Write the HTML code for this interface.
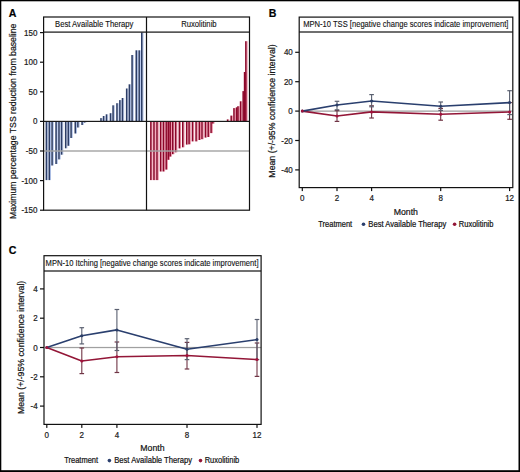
<!DOCTYPE html>
<html><head><meta charset="utf-8"><style>
html,body{margin:0;padding:0;background:#fff;}
body{width:520px;height:472px;overflow:hidden;}
svg{display:block;font-family:"Liberation Sans", sans-serif;}
text{stroke:#1a1a1a;stroke-width:0.22px;}
text.lt{stroke-width:0.12px;}
</style></head><body>
<svg width="520" height="472" viewBox="0 0 520 472">
<rect width="520" height="472" fill="#fff"/>
<rect x="47.10" y="121.40" width="1.0" height="58.70" fill="#b3c4ea"/><rect x="45.60" y="121.40" width="1.55" height="58.70" fill="#2c3d66"/><rect x="50.00" y="121.40" width="1.0" height="58.70" fill="#b3c4ea"/><rect x="48.50" y="121.40" width="1.55" height="58.70" fill="#2c3d66"/><rect x="52.80" y="121.40" width="1.0" height="44.10" fill="#b3c4ea"/><rect x="51.30" y="121.40" width="1.55" height="44.10" fill="#2c3d66"/><rect x="56.80" y="121.40" width="1.0" height="42.60" fill="#b3c4ea"/><rect x="55.30" y="121.40" width="1.55" height="42.60" fill="#2c3d66"/><rect x="59.70" y="121.40" width="1.0" height="38.00" fill="#b3c4ea"/><rect x="58.20" y="121.40" width="1.55" height="38.00" fill="#2c3d66"/><rect x="62.30" y="121.40" width="1.0" height="33.30" fill="#b3c4ea"/><rect x="60.80" y="121.40" width="1.55" height="33.30" fill="#2c3d66"/><rect x="66.40" y="121.40" width="1.0" height="26.90" fill="#b3c4ea"/><rect x="64.90" y="121.40" width="1.55" height="26.90" fill="#2c3d66"/><rect x="69.00" y="121.40" width="1.0" height="24.40" fill="#b3c4ea"/><rect x="67.50" y="121.40" width="1.55" height="24.40" fill="#2c3d66"/><rect x="71.80" y="121.40" width="1.0" height="16.60" fill="#b3c4ea"/><rect x="70.30" y="121.40" width="1.55" height="16.60" fill="#2c3d66"/><rect x="76.00" y="121.40" width="1.0" height="12.10" fill="#b3c4ea"/><rect x="74.50" y="121.40" width="1.55" height="12.10" fill="#2c3d66"/><rect x="78.60" y="121.40" width="1.0" height="6.10" fill="#b3c4ea"/><rect x="77.10" y="121.40" width="1.55" height="6.10" fill="#2c3d66"/><rect x="82.80" y="121.40" width="1.0" height="3.60" fill="#b3c4ea"/><rect x="81.30" y="121.40" width="1.55" height="3.60" fill="#2c3d66"/><rect x="85.30" y="121.40" width="1.0" height="1.20" fill="#b3c4ea"/><rect x="83.80" y="121.40" width="1.55" height="1.20" fill="#2c3d66"/><rect x="101.70" y="118.10" width="1.0" height="3.30" fill="#b3c4ea"/><rect x="100.20" y="118.10" width="1.55" height="3.30" fill="#2c3d66"/><rect x="104.30" y="116.00" width="1.0" height="5.40" fill="#b3c4ea"/><rect x="102.80" y="116.00" width="1.55" height="5.40" fill="#2c3d66"/><rect x="107.20" y="114.30" width="1.0" height="7.10" fill="#b3c4ea"/><rect x="105.70" y="114.30" width="1.55" height="7.10" fill="#2c3d66"/><rect x="111.20" y="113.20" width="1.0" height="8.20" fill="#b3c4ea"/><rect x="109.70" y="113.20" width="1.55" height="8.20" fill="#2c3d66"/><rect x="113.80" y="105.30" width="1.0" height="16.10" fill="#b3c4ea"/><rect x="112.30" y="105.30" width="1.55" height="16.10" fill="#2c3d66"/><rect x="117.70" y="103.20" width="1.0" height="18.20" fill="#b3c4ea"/><rect x="116.20" y="103.20" width="1.55" height="18.20" fill="#2c3d66"/><rect x="120.60" y="100.10" width="1.0" height="21.30" fill="#b3c4ea"/><rect x="119.10" y="100.10" width="1.55" height="21.30" fill="#2c3d66"/><rect x="123.20" y="98.00" width="1.0" height="23.40" fill="#b3c4ea"/><rect x="121.70" y="98.00" width="1.55" height="23.40" fill="#2c3d66"/><rect x="127.40" y="88.50" width="1.0" height="32.90" fill="#b3c4ea"/><rect x="125.90" y="88.50" width="1.55" height="32.90" fill="#2c3d66"/><rect x="130.10" y="84.30" width="1.0" height="37.10" fill="#b3c4ea"/><rect x="128.60" y="84.30" width="1.55" height="37.10" fill="#2c3d66"/><rect x="132.80" y="55.00" width="1.0" height="66.40" fill="#b3c4ea"/><rect x="131.30" y="55.00" width="1.55" height="66.40" fill="#2c3d66"/><rect x="137.00" y="50.30" width="1.0" height="71.10" fill="#b3c4ea"/><rect x="135.50" y="50.30" width="1.55" height="71.10" fill="#2c3d66"/><rect x="139.90" y="50.30" width="1.0" height="71.10" fill="#b3c4ea"/><rect x="138.40" y="50.30" width="1.55" height="71.10" fill="#2c3d66"/><rect x="142.50" y="32.50" width="1.0" height="88.90" fill="#b3c4ea"/><rect x="141.00" y="32.50" width="1.55" height="88.90" fill="#2c3d66"/>
<rect x="151.60" y="121.40" width="1.0" height="58.70" fill="#ef8fa6"/><rect x="150.10" y="121.40" width="1.55" height="58.70" fill="#8c0629"/><rect x="154.70" y="121.40" width="1.0" height="58.70" fill="#ef8fa6"/><rect x="153.20" y="121.40" width="1.55" height="58.70" fill="#8c0629"/><rect x="157.70" y="121.40" width="1.0" height="58.70" fill="#ef8fa6"/><rect x="156.20" y="121.40" width="1.55" height="58.70" fill="#8c0629"/><rect x="161.30" y="121.40" width="1.0" height="50.10" fill="#ef8fa6"/><rect x="159.80" y="121.40" width="1.55" height="50.10" fill="#8c0629"/><rect x="164.10" y="121.40" width="1.0" height="50.10" fill="#ef8fa6"/><rect x="162.60" y="121.40" width="1.55" height="50.10" fill="#8c0629"/><rect x="166.90" y="121.40" width="1.0" height="48.20" fill="#ef8fa6"/><rect x="165.40" y="121.40" width="1.55" height="48.20" fill="#8c0629"/><rect x="169.00" y="121.40" width="1.0" height="38.40" fill="#ef8fa6"/><rect x="167.50" y="121.40" width="1.55" height="38.40" fill="#8c0629"/><rect x="170.90" y="121.40" width="1.0" height="35.20" fill="#ef8fa6"/><rect x="169.40" y="121.40" width="1.55" height="35.20" fill="#8c0629"/><rect x="173.50" y="121.40" width="1.0" height="32.80" fill="#ef8fa6"/><rect x="172.00" y="121.40" width="1.55" height="32.80" fill="#8c0629"/><rect x="176.40" y="121.40" width="1.0" height="30.90" fill="#ef8fa6"/><rect x="174.90" y="121.40" width="1.55" height="30.90" fill="#8c0629"/><rect x="180.10" y="121.40" width="1.0" height="27.00" fill="#ef8fa6"/><rect x="178.60" y="121.40" width="1.55" height="27.00" fill="#8c0629"/><rect x="183.50" y="121.40" width="1.0" height="25.90" fill="#ef8fa6"/><rect x="182.00" y="121.40" width="1.55" height="25.90" fill="#8c0629"/><rect x="187.40" y="121.40" width="1.0" height="23.20" fill="#ef8fa6"/><rect x="185.90" y="121.40" width="1.55" height="23.20" fill="#8c0629"/><rect x="189.80" y="121.40" width="1.0" height="22.90" fill="#ef8fa6"/><rect x="188.30" y="121.40" width="1.55" height="22.90" fill="#8c0629"/><rect x="193.20" y="121.40" width="1.0" height="20.00" fill="#ef8fa6"/><rect x="191.70" y="121.40" width="1.55" height="20.00" fill="#8c0629"/><rect x="196.80" y="121.40" width="1.0" height="20.00" fill="#ef8fa6"/><rect x="195.30" y="121.40" width="1.55" height="20.00" fill="#8c0629"/><rect x="200.00" y="121.40" width="1.0" height="18.60" fill="#ef8fa6"/><rect x="198.50" y="121.40" width="1.55" height="18.60" fill="#8c0629"/><rect x="202.70" y="121.40" width="1.0" height="17.80" fill="#ef8fa6"/><rect x="201.20" y="121.40" width="1.55" height="17.80" fill="#8c0629"/><rect x="206.10" y="121.40" width="1.0" height="16.20" fill="#ef8fa6"/><rect x="204.60" y="121.40" width="1.55" height="16.20" fill="#8c0629"/><rect x="208.90" y="121.40" width="1.0" height="15.60" fill="#ef8fa6"/><rect x="207.40" y="121.40" width="1.55" height="15.60" fill="#8c0629"/><rect x="211.80" y="121.40" width="1.0" height="11.70" fill="#ef8fa6"/><rect x="210.30" y="121.40" width="1.55" height="11.70" fill="#8c0629"/><rect x="213.60" y="121.40" width="1.0" height="2.20" fill="#ef8fa6"/><rect x="212.10" y="121.40" width="1.55" height="2.20" fill="#8c0629"/><rect x="228.30" y="119.40" width="1.0" height="2.00" fill="#ef8fa6"/><rect x="226.80" y="119.40" width="1.55" height="2.00" fill="#8c0629"/><rect x="231.90" y="115.60" width="1.0" height="5.80" fill="#ef8fa6"/><rect x="230.40" y="115.60" width="1.55" height="5.80" fill="#8c0629"/><rect x="234.70" y="108.10" width="1.0" height="13.30" fill="#ef8fa6"/><rect x="233.20" y="108.10" width="1.55" height="13.30" fill="#8c0629"/><rect x="237.30" y="107.30" width="1.0" height="14.10" fill="#ef8fa6"/><rect x="235.80" y="107.30" width="1.55" height="14.10" fill="#8c0629"/><rect x="238.70" y="106.20" width="1.0" height="15.20" fill="#ef8fa6"/><rect x="237.20" y="106.20" width="1.55" height="15.20" fill="#8c0629"/><rect x="241.30" y="101.30" width="1.0" height="20.10" fill="#ef8fa6"/><rect x="239.80" y="101.30" width="1.55" height="20.10" fill="#8c0629"/><rect x="243.90" y="91.10" width="1.0" height="30.30" fill="#ef8fa6"/><rect x="242.40" y="91.10" width="1.55" height="30.30" fill="#8c0629"/><rect x="245.30" y="72.00" width="1.0" height="49.40" fill="#ef8fa6"/><rect x="243.80" y="72.00" width="1.55" height="49.40" fill="#8c0629"/><rect x="246.60" y="41.20" width="1.0" height="80.20" fill="#ef8fa6"/><rect x="245.10" y="41.20" width="1.55" height="80.20" fill="#8c0629"/>
<rect x="43.5" y="150.30" width="206" height="1.4" fill="#a3a3a3"/>
<rect x="43.5" y="120.80" width="206" height="1.2" fill="#1a1a1a"/>
<rect x="43.6" y="17.0" width="205.9" height="193.2" fill="none" stroke="#111" stroke-width="1.2"/>
<rect x="43.6" y="31.5" width="205.9" height="1.2" fill="#111"/>
<rect x="145.9" y="17.0" width="1.2" height="193.2" fill="#111"/>
<rect x="40" y="32.00" width="3.6" height="1.2" fill="#111"/>
<text transform="translate(37.40,35.60) scale(0.92,1)" text-anchor="end" font-size="8.70" fill="#1a1a1a">150</text>
<rect x="40" y="61.60" width="3.6" height="1.2" fill="#111"/>
<text transform="translate(37.40,65.20) scale(0.92,1)" text-anchor="end" font-size="8.70" fill="#1a1a1a">100</text>
<rect x="40" y="91.20" width="3.6" height="1.2" fill="#111"/>
<text transform="translate(37.40,94.80) scale(0.92,1)" text-anchor="end" font-size="8.70" fill="#1a1a1a">50</text>
<rect x="40" y="120.80" width="3.6" height="1.2" fill="#111"/>
<text transform="translate(37.40,124.40) scale(0.92,1)" text-anchor="end" font-size="8.70" fill="#1a1a1a">0</text>
<rect x="40" y="150.40" width="3.6" height="1.2" fill="#111"/>
<text transform="translate(37.40,154.00) scale(0.92,1)" text-anchor="end" font-size="8.70" fill="#1a1a1a">-50</text>
<rect x="40" y="180.00" width="3.6" height="1.2" fill="#111"/>
<text transform="translate(37.40,183.60) scale(0.92,1)" text-anchor="end" font-size="8.70" fill="#1a1a1a">-100</text>
<rect x="40" y="209.60" width="3.6" height="1.2" fill="#111"/>
<text transform="translate(37.40,213.20) scale(0.92,1)" text-anchor="end" font-size="8.70" fill="#1a1a1a">-150</text>
<text transform="translate(94.20,27.20) scale(0.92,1)" text-anchor="middle" font-size="8.37" class="lt" fill="#111">Best Available Therapy</text>
<text transform="translate(198.90,27.20) scale(0.92,1)" text-anchor="middle" font-size="8.37" class="lt" fill="#111">Ruxolitinib</text>
<text transform="translate(15.60,121.30) rotate(-90) scale(0.92,1)" text-anchor="middle" font-size="9.46" fill="#111">Maximum percentage TSS reduction from baseline</text>
<text transform="translate(8.80,16.60) scale(0.95,1)" font-size="11.16" font-weight="bold" fill="#000">A</text>
<text transform="translate(268.80,16.60) scale(0.95,1)" font-size="11.16" font-weight="bold" fill="#000">B</text>
<rect x="302.30" y="110.50" width="210.50" height="1.25" fill="#a0a0a0"/>
<rect x="299.2" y="17.1" width="213.59999999999997" height="170.5" fill="none" stroke="#111" stroke-width="1.2"/>
<rect x="299.2" y="31.4" width="213.59999999999997" height="1.2" fill="#111"/>
<text transform="translate(303.20,27.00) scale(0.92,1)" font-size="8.26" class="lt" fill="#111">MPN-10 TSS [negative change scores indicate improvement]</text>
<rect x="295.2" y="51.70" width="4" height="1.2" fill="#111"/>
<text transform="translate(292.80,55.30) scale(0.92,1)" text-anchor="end" font-size="8.70" fill="#1a1a1a">40</text>
<rect x="295.2" y="81.10" width="4" height="1.2" fill="#111"/>
<text transform="translate(292.80,84.70) scale(0.92,1)" text-anchor="end" font-size="8.70" fill="#1a1a1a">20</text>
<rect x="295.2" y="110.50" width="4" height="1.2" fill="#111"/>
<text transform="translate(292.80,114.10) scale(0.92,1)" text-anchor="end" font-size="8.70" fill="#1a1a1a">0</text>
<rect x="295.2" y="139.90" width="4" height="1.2" fill="#111"/>
<text transform="translate(292.80,143.50) scale(0.92,1)" text-anchor="end" font-size="8.70" fill="#1a1a1a">-20</text>
<rect x="295.2" y="169.30" width="4" height="1.2" fill="#111"/>
<text transform="translate(292.80,172.90) scale(0.92,1)" text-anchor="end" font-size="8.70" fill="#1a1a1a">-40</text>
<text transform="translate(275.40,111.00) rotate(-90) scale(0.92,1)" text-anchor="middle" font-size="9.51" fill="#111">Mean (+/-95% confidence interval)</text>
<rect x="301.70" y="187.6" width="1.2" height="3.5" fill="#111"/>
<text transform="translate(302.30,201.00) scale(0.92,1)" text-anchor="middle" font-size="8.70" fill="#1a1a1a">0</text>
<rect x="336.40" y="187.6" width="1.2" height="3.5" fill="#111"/>
<text transform="translate(337.00,201.00) scale(0.92,1)" text-anchor="middle" font-size="8.70" fill="#1a1a1a">2</text>
<rect x="371.00" y="187.6" width="1.2" height="3.5" fill="#111"/>
<text transform="translate(371.60,201.00) scale(0.92,1)" text-anchor="middle" font-size="8.70" fill="#1a1a1a">4</text>
<rect x="440.10" y="187.6" width="1.2" height="3.5" fill="#111"/>
<text transform="translate(440.70,201.00) scale(0.92,1)" text-anchor="middle" font-size="8.70" fill="#1a1a1a">8</text>
<rect x="509.00" y="187.6" width="1.2" height="3.5" fill="#111"/>
<text transform="translate(509.60,201.00) scale(0.92,1)" text-anchor="middle" font-size="8.70" fill="#1a1a1a">12</text>
<text transform="translate(405.80,214.80) scale(0.92,1)" text-anchor="middle" font-size="9.51" fill="#111">Month</text>
<text transform="translate(318.30,226.60) scale(0.92,1)" font-size="8.15" fill="#111">Treatment</text>
<circle cx="363.5" cy="224.2" r="1.8" fill="#2a3f6e"/>
<text transform="translate(368.30,226.60) scale(0.92,1)" font-size="8.32" fill="#111">Best Available Therapy</text>
<circle cx="454.6" cy="224.2" r="1.8" fill="#931637"/>
<text transform="translate(458.80,226.60) scale(0.92,1)" font-size="8.15" fill="#111">Ruxolitinib</text>
<line x1="337.00" y1="110.60" x2="337.00" y2="121.40" stroke="#703545" stroke-width="1.1"/><line x1="334.70" y1="110.60" x2="339.30" y2="110.60" stroke="#703545" stroke-width="1.2"/><line x1="334.70" y1="121.40" x2="339.30" y2="121.40" stroke="#703545" stroke-width="1.2"/><line x1="371.60" y1="105.80" x2="371.60" y2="118.00" stroke="#703545" stroke-width="1.1"/><line x1="369.30" y1="105.80" x2="373.90" y2="105.80" stroke="#703545" stroke-width="1.2"/><line x1="369.30" y1="118.00" x2="373.90" y2="118.00" stroke="#703545" stroke-width="1.2"/><line x1="440.70" y1="108.40" x2="440.70" y2="120.20" stroke="#703545" stroke-width="1.1"/><line x1="438.40" y1="108.40" x2="443.00" y2="108.40" stroke="#703545" stroke-width="1.2"/><line x1="438.40" y1="120.20" x2="443.00" y2="120.20" stroke="#703545" stroke-width="1.2"/><line x1="509.60" y1="102.60" x2="509.60" y2="119.30" stroke="#703545" stroke-width="1.1"/><line x1="507.30" y1="102.60" x2="511.90" y2="102.60" stroke="#703545" stroke-width="1.2"/><line x1="507.30" y1="119.30" x2="511.90" y2="119.30" stroke="#703545" stroke-width="1.2"/>
<line x1="337.00" y1="101.30" x2="337.00" y2="109.80" stroke="#5a6070" stroke-width="1.1"/><line x1="334.70" y1="101.30" x2="339.30" y2="101.30" stroke="#5a6070" stroke-width="1.2"/><line x1="334.70" y1="109.80" x2="339.30" y2="109.80" stroke="#5a6070" stroke-width="1.2"/><line x1="371.60" y1="94.60" x2="371.60" y2="106.80" stroke="#5a6070" stroke-width="1.1"/><line x1="369.30" y1="94.60" x2="373.90" y2="94.60" stroke="#5a6070" stroke-width="1.2"/><line x1="369.30" y1="106.80" x2="373.90" y2="106.80" stroke="#5a6070" stroke-width="1.2"/><line x1="440.70" y1="102.00" x2="440.70" y2="110.40" stroke="#5a6070" stroke-width="1.1"/><line x1="438.40" y1="102.00" x2="443.00" y2="102.00" stroke="#5a6070" stroke-width="1.2"/><line x1="438.40" y1="110.40" x2="443.00" y2="110.40" stroke="#5a6070" stroke-width="1.2"/><line x1="509.60" y1="90.70" x2="509.60" y2="114.60" stroke="#5a6070" stroke-width="1.1"/><line x1="507.30" y1="90.70" x2="511.90" y2="90.70" stroke="#5a6070" stroke-width="1.2"/><line x1="507.30" y1="114.60" x2="511.90" y2="114.60" stroke="#5a6070" stroke-width="1.2"/>
<polyline points="302.30,111.10 337.00,116.00 371.60,111.90 440.70,114.30 509.60,112.00" fill="none" stroke="#931637" stroke-width="1.6" stroke-linejoin="round"/>
<polyline points="302.30,111.10 337.00,105.00 371.60,101.00 440.70,106.20 509.60,102.60" fill="none" stroke="#2a3f6e" stroke-width="1.6" stroke-linejoin="round"/>
<circle cx="302.30" cy="111.10" r="1.5" fill="#2a3d66"/>
<circle cx="337.00" cy="105.00" r="1.5" fill="#2a3d66"/>
<circle cx="371.60" cy="101.00" r="1.5" fill="#2a3d66"/>
<circle cx="440.70" cy="106.20" r="1.5" fill="#2a3d66"/>
<circle cx="509.60" cy="102.60" r="1.5" fill="#2a3d66"/>
<circle cx="302.30" cy="111.10" r="1.5" fill="#a3123c"/>
<circle cx="337.00" cy="116.00" r="1.5" fill="#a3123c"/>
<circle cx="371.60" cy="111.90" r="1.5" fill="#a3123c"/>
<circle cx="440.70" cy="114.30" r="1.5" fill="#a3123c"/>
<circle cx="509.60" cy="112.00" r="1.5" fill="#a3123c"/>
<text transform="translate(8.80,254.00) scale(0.95,1)" font-size="11.16" font-weight="bold" fill="#000">C</text>
<rect x="46.80" y="346.90" width="214.30" height="1.25" fill="#a0a0a0"/>
<rect x="44.0" y="255.7" width="217.10000000000002" height="168.7" fill="none" stroke="#111" stroke-width="1.2"/>
<rect x="44.0" y="270.4" width="217.10000000000002" height="1.2" fill="#111"/>
<text transform="translate(45.60,266.00) scale(0.92,1)" font-size="8.26" class="lt" fill="#111">MPN-10 Itching [negative change scores indicate improvement]</text>
<rect x="40.0" y="288.30" width="4" height="1.2" fill="#111"/>
<text transform="translate(37.60,291.90) scale(0.92,1)" text-anchor="end" font-size="8.70" fill="#1a1a1a">4</text>
<rect x="40.0" y="317.60" width="4" height="1.2" fill="#111"/>
<text transform="translate(37.60,321.20) scale(0.92,1)" text-anchor="end" font-size="8.70" fill="#1a1a1a">2</text>
<rect x="40.0" y="346.90" width="4" height="1.2" fill="#111"/>
<text transform="translate(37.60,350.50) scale(0.92,1)" text-anchor="end" font-size="8.70" fill="#1a1a1a">0</text>
<rect x="40.0" y="376.20" width="4" height="1.2" fill="#111"/>
<text transform="translate(37.60,379.80) scale(0.92,1)" text-anchor="end" font-size="8.70" fill="#1a1a1a">-2</text>
<rect x="40.0" y="405.50" width="4" height="1.2" fill="#111"/>
<text transform="translate(37.60,409.10) scale(0.92,1)" text-anchor="end" font-size="8.70" fill="#1a1a1a">-4</text>
<text transform="translate(24.10,347.40) rotate(-90) scale(0.92,1)" text-anchor="middle" font-size="9.51" fill="#111">Mean (+/-95% confidence interval)</text>
<rect x="46.20" y="424.4" width="1.2" height="3.5" fill="#111"/>
<text transform="translate(46.80,437.50) scale(0.92,1)" text-anchor="middle" font-size="8.70" fill="#1a1a1a">0</text>
<rect x="81.20" y="424.4" width="1.2" height="3.5" fill="#111"/>
<text transform="translate(81.80,437.50) scale(0.92,1)" text-anchor="middle" font-size="8.70" fill="#1a1a1a">2</text>
<rect x="116.30" y="424.4" width="1.2" height="3.5" fill="#111"/>
<text transform="translate(116.90,437.50) scale(0.92,1)" text-anchor="middle" font-size="8.70" fill="#1a1a1a">4</text>
<rect x="186.40" y="424.4" width="1.2" height="3.5" fill="#111"/>
<text transform="translate(187.00,437.50) scale(0.92,1)" text-anchor="middle" font-size="8.70" fill="#1a1a1a">8</text>
<rect x="256.40" y="424.4" width="1.2" height="3.5" fill="#111"/>
<text transform="translate(257.00,437.50) scale(0.92,1)" text-anchor="middle" font-size="8.70" fill="#1a1a1a">12</text>
<text transform="translate(152.40,451.30) scale(0.92,1)" text-anchor="middle" font-size="9.51" fill="#111">Month</text>
<text transform="translate(64.20,463.00) scale(0.92,1)" font-size="8.15" fill="#111">Treatment</text>
<circle cx="109.4" cy="460.6" r="1.8" fill="#2a3f6e"/>
<text transform="translate(114.20,463.00) scale(0.92,1)" font-size="8.32" fill="#111">Best Available Therapy</text>
<circle cx="200.5" cy="460.6" r="1.8" fill="#931637"/>
<text transform="translate(204.70,463.00) scale(0.92,1)" font-size="8.15" fill="#111">Ruxolitinib</text>
<line x1="81.80" y1="348.00" x2="81.80" y2="373.60" stroke="#703545" stroke-width="1.1"/><line x1="79.50" y1="348.00" x2="84.10" y2="348.00" stroke="#703545" stroke-width="1.2"/><line x1="79.50" y1="373.60" x2="84.10" y2="373.60" stroke="#703545" stroke-width="1.2"/><line x1="116.90" y1="342.00" x2="116.90" y2="372.50" stroke="#703545" stroke-width="1.1"/><line x1="114.60" y1="342.00" x2="119.20" y2="342.00" stroke="#703545" stroke-width="1.2"/><line x1="114.60" y1="372.50" x2="119.20" y2="372.50" stroke="#703545" stroke-width="1.2"/><line x1="187.00" y1="342.40" x2="187.00" y2="369.00" stroke="#703545" stroke-width="1.1"/><line x1="184.70" y1="342.40" x2="189.30" y2="342.40" stroke="#703545" stroke-width="1.2"/><line x1="184.70" y1="369.00" x2="189.30" y2="369.00" stroke="#703545" stroke-width="1.2"/><line x1="257.00" y1="343.00" x2="257.00" y2="376.40" stroke="#703545" stroke-width="1.1"/><line x1="254.70" y1="343.00" x2="259.30" y2="343.00" stroke="#703545" stroke-width="1.2"/><line x1="254.70" y1="376.40" x2="259.30" y2="376.40" stroke="#703545" stroke-width="1.2"/>
<line x1="81.80" y1="327.70" x2="81.80" y2="343.90" stroke="#5a6070" stroke-width="1.1"/><line x1="79.50" y1="327.70" x2="84.10" y2="327.70" stroke="#5a6070" stroke-width="1.2"/><line x1="79.50" y1="343.90" x2="84.10" y2="343.90" stroke="#5a6070" stroke-width="1.2"/><line x1="116.90" y1="309.50" x2="116.90" y2="350.50" stroke="#5a6070" stroke-width="1.1"/><line x1="114.60" y1="309.50" x2="119.20" y2="309.50" stroke="#5a6070" stroke-width="1.2"/><line x1="114.60" y1="350.50" x2="119.20" y2="350.50" stroke="#5a6070" stroke-width="1.2"/><line x1="187.00" y1="338.70" x2="187.00" y2="359.60" stroke="#5a6070" stroke-width="1.1"/><line x1="184.70" y1="338.70" x2="189.30" y2="338.70" stroke="#5a6070" stroke-width="1.2"/><line x1="184.70" y1="359.60" x2="189.30" y2="359.60" stroke="#5a6070" stroke-width="1.2"/><line x1="257.00" y1="319.50" x2="257.00" y2="359.60" stroke="#5a6070" stroke-width="1.1"/><line x1="254.70" y1="319.50" x2="259.30" y2="319.50" stroke="#5a6070" stroke-width="1.2"/><line x1="254.70" y1="359.60" x2="259.30" y2="359.60" stroke="#5a6070" stroke-width="1.2"/>
<polyline points="46.80,347.50 81.80,361.00 116.90,356.80 187.00,355.50 257.00,359.50" fill="none" stroke="#931637" stroke-width="1.6" stroke-linejoin="round"/>
<polyline points="46.80,347.50 81.80,335.70 116.90,329.90 187.00,349.30 257.00,339.60" fill="none" stroke="#2a3f6e" stroke-width="1.6" stroke-linejoin="round"/>
<circle cx="46.80" cy="347.50" r="1.5" fill="#2a3d66"/>
<circle cx="81.80" cy="335.70" r="1.5" fill="#2a3d66"/>
<circle cx="116.90" cy="329.90" r="1.5" fill="#2a3d66"/>
<circle cx="187.00" cy="349.30" r="1.5" fill="#2a3d66"/>
<circle cx="257.00" cy="339.60" r="1.5" fill="#2a3d66"/>
<circle cx="46.80" cy="347.50" r="1.5" fill="#a3123c"/>
<circle cx="81.80" cy="361.00" r="1.5" fill="#a3123c"/>
<circle cx="116.90" cy="356.80" r="1.5" fill="#a3123c"/>
<circle cx="187.00" cy="355.50" r="1.5" fill="#a3123c"/>
<circle cx="257.00" cy="359.50" r="1.5" fill="#a3123c"/>
<rect x="0" y="0" width="1.3" height="472" fill="#000"/>
<rect x="0" y="0" width="520" height="1.3" fill="#000"/>
<rect x="518.5" y="0" width="1.5" height="472" fill="#000"/>
<rect x="0" y="470.2" width="520" height="1.8" fill="#000"/>
</svg>
</body></html>
